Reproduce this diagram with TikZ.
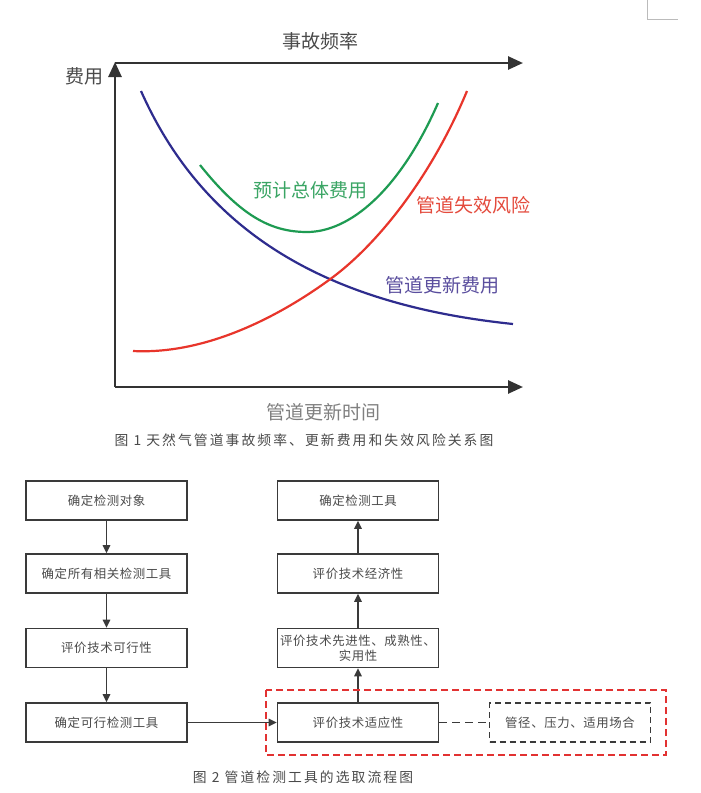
\documentclass[tikz,border=0pt]{standalone}
\usepackage{fontspec}
\setmainfont{Noto Sans CJK SC}
\newfontfamily\spacedfont[LetterSpace=15]{Noto Sans CJK SC}
\newfontfamily\boxfont[LetterSpace=5]{Noto Sans CJK SC}
\usetikzlibrary{arrows.meta}
\definecolor{axisgray}{HTML}{333333}
\definecolor{boxgray}{HTML}{3A3A3A}
\definecolor{textgray}{HTML}{4A4A4A}
\definecolor{lightgray}{HTML}{BBBBBB}
\definecolor{curveblue}{HTML}{2E2C8E}
\definecolor{curvegreen}{HTML}{1E9B52}
\definecolor{curvered}{HTML}{E8352B}
\definecolor{lblgreen}{HTML}{3AA564}
\definecolor{lblred}{HTML}{E44A3C}
\definecolor{lblblue}{HTML}{5A4E9E}
\definecolor{dashred}{HTML}{E23232}
\begin{document}
\begin{tikzpicture}[x=1pt,y=-1pt,
  axisline/.style={draw=axisgray, line width=2.6pt, -{Triangle[length=15pt,width=13pt]}},
  curve/.style={line width=2.2pt},
  chartlabel/.style={font=\fontsize{19}{22}\selectfont, inner sep=0pt},
  flowbox/.style={draw=boxgray, line width=1.7pt, minimum width=161pt, minimum height=39pt,
    inner sep=0pt, text=textgray, align=center, font=\boxfont\fontsize{12.4}{15}\selectfont},
  flowarrow/.style={draw=boxgray, line width=1.5pt, -{Triangle[length=8pt,width=7.5pt]}},
  caption/.style={text=textgray, inner sep=0pt, font=\spacedfont\fontsize{13.8}{16}\selectfont}
]
\useasboundingbox (0,0) rectangle (701,793);
\fill[white] (0,0) rectangle (701,793);

% page corner mark
\draw[lightgray, line width=0.8pt] (647,0) -- (647,19) -- (678,19);

% ---------- Figure 1 ----------
\coordinate (origin) at (115,387);
\coordinate (ytop) at (115,62);
\coordinate (topstart) at (115,63);
\coordinate (topend) at (523,63);
\coordinate (xend) at (523,387);
\draw[axisline] (origin) -- (ytop);
\draw[axisline] (topstart) -- (topend);
\draw[axisline] (origin) -- (xend);

\node[chartlabel, text=textgray] (freq) at (320,41) {事故频率};
\node[chartlabel, text=textgray] (cost) at (84,76) {费用};
\node[chartlabel, text=gray] (time) at (323,412) {管道更新时间};

\draw[curveblue, curve] (141,91) .. controls (205,235) and (330,305) .. (513,324);
\draw[curvered, curve] (133,351) .. controls (210,355) and (285,312) .. (329,280)
  .. controls (375,247) and (430,180) .. (467,91);
\draw[curvegreen, curve] (200,165) .. controls (240,215) and (270,232) .. (307,232)
  .. controls (350,232) and (400,190) .. (438,103);

\node[chartlabel, text=lblgreen] (lgreen) at (310,190) {预计总体费用};
\node[chartlabel, text=lblred] (lred) at (473,205) {管道失效风险};
\node[chartlabel, text=lblblue] (lblue) at (442,285) {管道更新费用};

\node[caption] (cap1) at (304,440) {图 1 天然气管道事故频率、更新费用和失效风险关系图};

% ---------- Figure 2 ----------
\node[flowbox] (a1) at (106.5,500.5) {确定检测对象};
\node[flowbox] (a2) at (106.5,573.5) {确定所有相关检测工具};
\node[flowbox] (a3) at (106.5,648) {评价技术可行性};
\node[flowbox] (a4) at (106.5,722.5) {确定可行检测工具};

\node[flowbox] (b1) at (358,500.5) {确定检测工具};
\node[flowbox] (b2) at (358,573.5) {评价技术经济性};
\node[flowbox] (b3) at (358,648) {评价技术先进性、成熟性、\\实用性};
\node[flowbox] (b4) at (358,722.5) {评价技术适应性};

\node[flowbox, dash pattern=on 6pt off 4pt] (c4) at (570,722.5) {管径、压力、适用场合};

\draw[flowarrow] (a1) -- (a2);
\draw[flowarrow] (a2) -- (a3);
\draw[flowarrow] (a3) -- (a4);
\draw[flowarrow] (a4) -- (b4);
\draw[flowarrow] (b4) -- (b3);
\draw[flowarrow] (b3) -- (b2);
\draw[flowarrow] (b2) -- (b1);
\draw[boxgray, line width=1.8pt, dash pattern=on 8pt off 5pt] (b4) -- (c4);

\draw[dashred, line width=2pt, dash pattern=on 7pt off 4pt] (266,690) rectangle (666,755);

\node[caption] (cap2) at (303,777) {图 2 管道检测工具的选取流程图};
\end{tikzpicture}
\end{document}
